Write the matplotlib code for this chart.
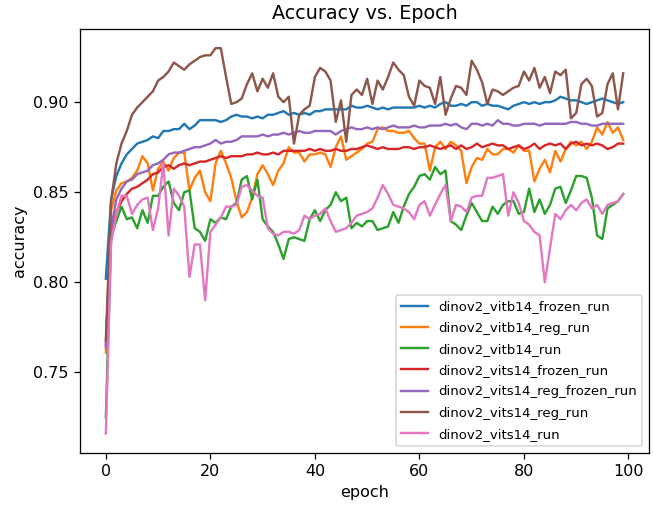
import matplotlib

matplotlib.use("Agg")

import matplotlib.pyplot as plt

# accuracy per epoch
vitb14_frozen = [
    0.802, 0.846, 0.859, 0.866, 0.871, 0.874, 0.877, 0.878, 0.879, 0.881,
    0.880, 0.884, 0.884, 0.885, 0.885, 0.888, 0.885, 0.887, 0.890, 0.890,
    0.890, 0.890, 0.889, 0.890, 0.892, 0.893, 0.892, 0.892, 0.891, 0.892,
    0.891, 0.893, 0.893, 0.894, 0.895, 0.893, 0.894, 0.893, 0.894, 0.893,
    0.895, 0.895, 0.896, 0.896, 0.896, 0.896, 0.896, 0.898, 0.897, 0.897,
    0.898, 0.897, 0.896, 0.897, 0.896, 0.897, 0.897, 0.897, 0.897, 0.897,
    0.898, 0.897, 0.898, 0.897, 0.899, 0.900, 0.898, 0.898, 0.899, 0.898,
    0.900, 0.900, 0.898, 0.899, 0.898, 0.898, 0.897, 0.896, 0.898, 0.899,
    0.900, 0.899, 0.900, 0.899, 0.900, 0.900, 0.901, 0.903, 0.902, 0.901,
    0.901, 0.900, 0.899, 0.900, 0.901, 0.902, 0.901, 0.900, 0.899, 0.900,
]
vitb14_reg = [
    0.761, 0.840, 0.851, 0.855, 0.856, 0.858, 0.862, 0.870, 0.866, 0.851,
    0.863, 0.867, 0.862, 0.869, 0.872, 0.872, 0.851, 0.858, 0.862, 0.850,
    0.845, 0.866, 0.873, 0.866, 0.858, 0.845, 0.836, 0.839, 0.847, 0.860,
    0.865, 0.860, 0.854, 0.862, 0.866, 0.875, 0.872, 0.872, 0.867, 0.871,
    0.871, 0.872, 0.871, 0.864, 0.875, 0.881, 0.868, 0.870, 0.872, 0.874,
    0.877, 0.878, 0.885, 0.886, 0.884, 0.884, 0.883, 0.883, 0.884, 0.880,
    0.877, 0.877, 0.862, 0.875, 0.878, 0.874, 0.878, 0.876, 0.873, 0.855,
    0.864, 0.869, 0.868, 0.874, 0.871, 0.871, 0.874, 0.874, 0.872, 0.876,
    0.873, 0.873, 0.856, 0.863, 0.868, 0.861, 0.873, 0.867, 0.874, 0.878,
    0.876, 0.878, 0.874, 0.878, 0.886, 0.882, 0.889, 0.883, 0.886, 0.879,
]
vitb14 = [
    0.725, 0.825, 0.834, 0.842, 0.835, 0.836, 0.830, 0.840, 0.833, 0.848,
    0.848, 0.853, 0.856, 0.844, 0.840, 0.850, 0.851, 0.830, 0.828, 0.823,
    0.835, 0.833, 0.836, 0.835, 0.842, 0.844, 0.857, 0.859, 0.846, 0.857,
    0.835, 0.831, 0.828, 0.821, 0.813, 0.824, 0.825, 0.824, 0.823, 0.835,
    0.840, 0.834, 0.840, 0.843, 0.850, 0.845, 0.847, 0.830, 0.833, 0.831,
    0.834, 0.834, 0.829, 0.830, 0.831, 0.839, 0.833, 0.842, 0.849, 0.853,
    0.859, 0.860, 0.857, 0.864, 0.860, 0.862, 0.834, 0.832, 0.829, 0.837,
    0.844, 0.839, 0.834, 0.834, 0.842, 0.838, 0.843, 0.845, 0.845, 0.838,
    0.839, 0.852, 0.839, 0.846, 0.838, 0.843, 0.852, 0.853, 0.844, 0.851,
    0.859, 0.859, 0.858, 0.847, 0.826, 0.824, 0.841, 0.843, 0.845, 0.849,
]
vits14_frozen = [
    0.766, 0.828, 0.839, 0.845, 0.849, 0.852, 0.853, 0.855, 0.857, 0.860,
    0.861, 0.864, 0.865, 0.863, 0.865, 0.866, 0.865, 0.866, 0.867, 0.867,
    0.868, 0.869, 0.870, 0.869, 0.870, 0.870, 0.870, 0.871, 0.871, 0.872,
    0.871, 0.871, 0.872, 0.871, 0.873, 0.873, 0.873, 0.873, 0.873, 0.874,
    0.873, 0.874, 0.873, 0.873, 0.874, 0.873, 0.873, 0.874, 0.874, 0.875,
    0.876, 0.875, 0.874, 0.875, 0.874, 0.874, 0.874, 0.875, 0.875, 0.874,
    0.875, 0.875, 0.876, 0.875, 0.874, 0.875, 0.876, 0.874, 0.876, 0.874,
    0.875, 0.877, 0.875, 0.876, 0.877, 0.876, 0.876, 0.874, 0.875, 0.876,
    0.874, 0.875, 0.877, 0.874, 0.876, 0.877, 0.876, 0.877, 0.874, 0.877,
    0.878, 0.876, 0.877, 0.876, 0.877, 0.876, 0.874, 0.875, 0.877, 0.877,
]
vits14_reg_frozen = [
    0.764, 0.830, 0.846, 0.852, 0.856, 0.857, 0.860, 0.861, 0.862, 0.865,
    0.866, 0.868, 0.871, 0.872, 0.872, 0.873, 0.874, 0.875, 0.875, 0.876,
    0.877, 0.879, 0.877, 0.878, 0.878, 0.879, 0.881, 0.881, 0.881, 0.881,
    0.882, 0.881, 0.882, 0.882, 0.883, 0.882, 0.883, 0.884, 0.883, 0.883,
    0.884, 0.884, 0.884, 0.884, 0.882, 0.884, 0.885, 0.886, 0.885, 0.885,
    0.886, 0.885, 0.886, 0.885, 0.886, 0.887, 0.886, 0.886, 0.886, 0.887,
    0.886, 0.886, 0.887, 0.887, 0.887, 0.888, 0.887, 0.888, 0.886, 0.885,
    0.888, 0.888, 0.887, 0.888, 0.887, 0.890, 0.888, 0.888, 0.887, 0.887,
    0.888, 0.888, 0.888, 0.887, 0.888, 0.888, 0.888, 0.888, 0.888, 0.889,
    0.889, 0.888, 0.888, 0.887, 0.887, 0.888, 0.888, 0.888, 0.888, 0.888,
]
vits14_reg = [
    0.768, 0.845, 0.866, 0.877, 0.884, 0.893, 0.897, 0.900, 0.903, 0.906,
    0.912, 0.914, 0.917, 0.922, 0.920, 0.918, 0.921, 0.923, 0.925, 0.926,
    0.926, 0.930, 0.930, 0.914, 0.899, 0.900, 0.902, 0.910, 0.916, 0.906,
    0.913, 0.908, 0.916, 0.903, 0.900, 0.903, 0.877, 0.893, 0.896, 0.898,
    0.914, 0.919, 0.917, 0.912, 0.889, 0.901, 0.878, 0.904, 0.907, 0.904,
    0.913, 0.899, 0.912, 0.907, 0.914, 0.922, 0.918, 0.915, 0.903, 0.898,
    0.912, 0.909, 0.908, 0.899, 0.914, 0.893, 0.902, 0.909, 0.908, 0.904,
    0.923, 0.918, 0.911, 0.899, 0.907, 0.906, 0.904, 0.906, 0.908, 0.909,
    0.917, 0.912, 0.919, 0.908, 0.914, 0.905, 0.917, 0.915, 0.918, 0.891,
    0.894, 0.910, 0.913, 0.909, 0.892, 0.894, 0.910, 0.916, 0.896, 0.916,
]
vits14 = [
    0.716, 0.822, 0.838, 0.848, 0.848, 0.838, 0.843, 0.846, 0.847, 0.829,
    0.841, 0.866, 0.826, 0.852, 0.848, 0.842, 0.803, 0.821, 0.821, 0.790,
    0.828, 0.832, 0.836, 0.842, 0.842, 0.843, 0.853, 0.854, 0.851, 0.848,
    0.847, 0.830, 0.827, 0.826, 0.828, 0.828, 0.827, 0.829, 0.837, 0.835,
    0.837, 0.838, 0.841, 0.834, 0.828, 0.829, 0.830, 0.833, 0.837, 0.838,
    0.839, 0.841, 0.847, 0.854, 0.849, 0.843, 0.842, 0.841, 0.839, 0.835,
    0.843, 0.845, 0.837, 0.843, 0.849, 0.854, 0.834, 0.843, 0.842, 0.839,
    0.847, 0.848, 0.848, 0.858, 0.858, 0.859, 0.860, 0.837, 0.850, 0.844,
    0.834, 0.832, 0.828, 0.826, 0.800, 0.819, 0.838, 0.835, 0.840, 0.843,
    0.840, 0.844, 0.846, 0.841, 0.843, 0.838, 0.843, 0.844, 0.845, 0.849,
]

runs = {
    "dinov2_vitb14_frozen_run": vitb14_frozen,
    "dinov2_vitb14_reg_run": vitb14_reg,
    "dinov2_vitb14_run": vitb14,
    "dinov2_vits14_frozen_run": vits14_frozen,
    "dinov2_vits14_reg_frozen_run": vits14_reg_frozen,
    "dinov2_vits14_reg_run": vits14_reg,
    "dinov2_vits14_run": vits14,
}

DPI = 115  # the reference was rendered a bit larger than the 100 dpi default


def main() -> int:
    fig, ax = plt.subplots(figsize=(653 / DPI, 506 / DPI), dpi=DPI)
    fig.subplots_adjust(left=0.1225, right=0.994, top=0.943, bottom=0.105)

    for name, acc in runs.items():
        ax.plot(range(len(acc)), acc, label=name)

    ax.set_title("Accuracy vs. Epoch")
    ax.set_xlabel("epoch")
    ax.set_ylabel("accuracy")
    ax.legend(loc="lower right", fontsize="small", labelspacing=0.62)

    fig.savefig("out.png", dpi=DPI)
    plt.close(fig)
    return 0


if __name__ == "__main__":
    raise SystemExit(main())
